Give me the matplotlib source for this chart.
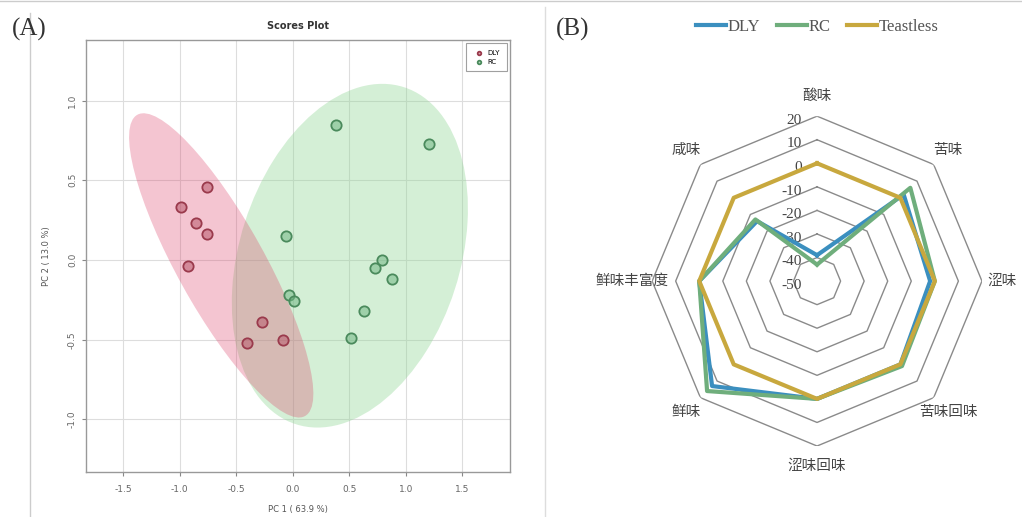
import numpy as np
import matplotlib
matplotlib.use("Agg")
import matplotlib.pyplot as plt
from matplotlib.patches import Ellipse
from matplotlib.lines import Line2D

# PCA scores (panel A)
dly_pc1 = [-0.76, -0.99, -0.86, -0.76, -0.93, -0.27, -0.41, -0.09]
dly_pc2 = [0.46, 0.33, 0.23, 0.16, -0.04, -0.39, -0.52, -0.50]
rc_pc1 = [0.38, 1.20, -0.06, 0.79, 0.73, 0.88, -0.03, 0.01, 0.63, 0.51]
rc_pc2 = [0.85, 0.73, 0.15, 0.00, -0.05, -0.12, -0.22, -0.26, -0.32, -0.49]
x_ticks = [-1.5, -1.0, -0.5, 0.0, 0.5, 1.0, 1.5]
y_ticks = [-1.0, -0.5, 0.0, 0.5, 1.0]

# e-tongue radar (panel B)
tastes = ["酸味", "苦味", "涩味", "苦味回味", "涩味回味", "鲜味", "鲜味丰富度", "咸味"]
dly_taste = [-39, 2, -2, 0, 0, 13, 0, -14]
rc_taste = [-43, 6, 0, 1, 0, 16, 0, -13]
tasteless = [0, 0, 0, 0, 0, 0, 0, 0]
r_levels = [-50, -40, -30, -20, -10, 0, 10, 20]


def conf_ellipse(ax, x, y, color, alpha, k=np.sqrt(5.991)):
    x = np.asarray(x)
    y = np.asarray(y)
    cov = np.cov(x, y)
    vals, vecs = np.linalg.eigh(cov)
    order = vals.argsort()[::-1]
    vals, vecs = vals[order], vecs[:, order]
    angle = np.degrees(np.arctan2(vecs[1, 0], vecs[0, 0]))
    e = Ellipse((x.mean(), y.mean()), 2 * k * np.sqrt(vals[0]), 2 * k * np.sqrt(vals[1]),
                angle=angle, facecolor=color, edgecolor="none", alpha=alpha, zorder=1)
    ax.add_patch(e)


fig = plt.figure(figsize=(10.22, 5.17), dpi=100)
serif = "Liberation Serif"
cjk = ["Noto Sans CJK SC", "DejaVu Sans"]

# ---------- panel A ----------
ax = fig.add_axes([0.0841, 0.087, 0.4149, 0.8356])
conf_ellipse(ax, rc_pc1, rc_pc2, "#8fd694", 0.38)
conf_ellipse(ax, dly_pc1, dly_pc2, "#dc4068", 0.30)
ax.scatter(dly_pc1, dly_pc2, s=55, facecolor=(0.72, 0.35, 0.42, 0.55),
           edgecolor="#9a3a4c", linewidth=1.3, zorder=3, label="DLY")
ax.scatter(rc_pc1, rc_pc2, s=55, facecolor=(0.45, 0.72, 0.52, 0.55),
           edgecolor="#4a8a5c", linewidth=1.3, zorder=3, label="RC")
ax.set_xlim(-1.83, 1.92)
ax.set_ylim(-1.33, 1.38)
ax.set_xticks(x_ticks)
ax.set_yticks(y_ticks)
ax.set_xticklabels([f"{v:.1f}" for v in x_ticks], fontsize=6.5, color="#666")
ax.set_yticklabels([f"{v:.1f}" for v in y_ticks], fontsize=6.5, color="#666",
                   rotation=90, va="center")
ax.tick_params(length=3, color="#888", width=0.8)
ax.tick_params(axis="x", pad=6)
ax.grid(True, color="#dddddd", linewidth=0.8)
ax.set_axisbelow(True)
for sp in ax.spines.values():
    sp.set_color("#999")
    sp.set_linewidth(1.0)
ax.set_title("Scores Plot", fontsize=7, fontweight="bold", color="#333", pad=8)
ax.set_xlabel("PC 1 ( 63.9 %)", fontsize=6, color="#555", labelpad=8)
ax.set_ylabel("PC 2 ( 13.0 %)", fontsize=6, color="#555", labelpad=12)
leg = ax.legend(loc="upper right", fontsize=5, markerscale=0.35, frameon=True,
                fancybox=False, edgecolor="#888", borderpad=0.9, handletextpad=0.3)
leg.get_frame().set_linewidth(0.8)

# ---------- panel B ----------
angles = np.arange(len(tastes)) * 2 * np.pi / len(tastes)
pax = fig.add_axes([0.638, 0.1373, 0.3229, 0.638], projection="polar")
pax.set_theta_zero_location("N")
pax.set_theta_direction(-1)
pax.set_ylim(-50, 20)
pax.grid(False)
pax.spines["polar"].set_visible(False)
pax.set_yticks([])
pax.set_facecolor("none")

ring_theta = np.append(angles, angles[0])
for lv in r_levels[1:]:
    pax.plot(ring_theta, [lv] * len(ring_theta), color="#8a8a8a", linewidth=1.0, zorder=1)
for lv in r_levels:
    pax.annotate(str(lv), xy=(0, lv), xytext=(-11, -3), textcoords="offset points",
                 ha="right", va="center", fontsize=11, family=serif, color="#444")

series = [("DLY", dly_taste, "#3b8fbf"), ("RC", rc_taste, "#6fae7c"),
          ("Teastless", tasteless, "#c8a83e")]
handles = []
for name, vals, col in series:
    v = np.append(vals, vals[0])
    line, = pax.plot(ring_theta, v, color=col, linewidth=3.0, zorder=3, label=name)
    handles.append(line)

pax.set_xticks(angles)
pax.set_xticklabels(tastes, family=cjk, fontsize=10.5, color="#444")
pax.tick_params(axis="x", pad=4)

fig.legend(handles=handles, labels=[h.get_label() for h in handles], loc="center",
           bbox_to_anchor=(0.80, 1 - 27 / 517), ncol=3, frameon=False,
           prop={"family": serif, "size": 12}, handlelength=1.8, handletextpad=0.1,
           columnspacing=1.0, labelcolor="#555")

# panel letters
fig.text(12 / 1022, 1 - 29 / 517, "(A)", family=serif, fontsize=18, va="center", color="#333")
fig.text(556 / 1022, 1 - 29 / 517, "(B)", family=serif, fontsize=18, va="center", color="#333")

# panel borders
fig.add_artist(Line2D([0, 1], [1 - 1 / 517, 1 - 1 / 517], color="#cccccc", linewidth=1.0))
fig.add_artist(Line2D([30 / 1022, 30 / 1022], [0, 1 - 13 / 517], color="#cccccc", linewidth=1.0))
fig.add_artist(Line2D([545 / 1022, 545 / 1022], [0, 1 - 7 / 517], color="#dddddd", linewidth=1.0))

fig.savefig("out.png", dpi=100)
